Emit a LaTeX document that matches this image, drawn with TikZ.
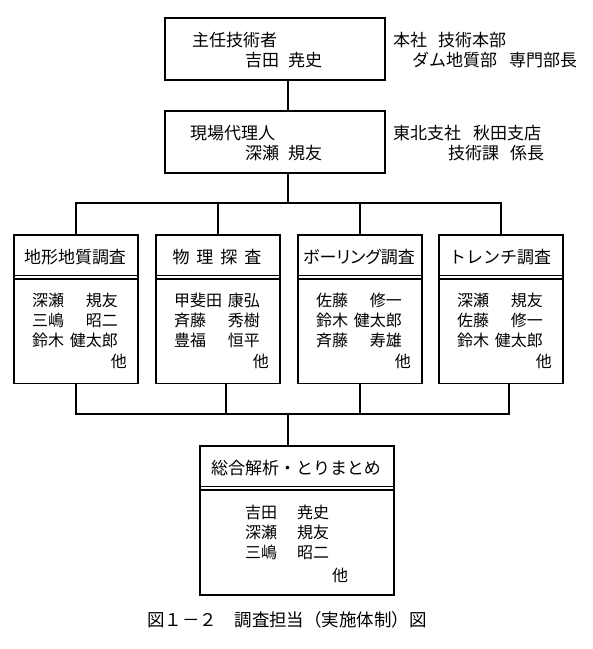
\documentclass[tikz,border=0pt]{standalone}
\usepackage{fontspec}
\newfontfamily\cjk{Noto Sans CJK JP}
\newfontfamily\cjkp[RawFeature=+palt]{Noto Sans CJK JP}
\begin{document}
\begin{tikzpicture}[x=1pt,y=-1pt,
  box/.style={draw, line width=1.5pt, rectangle, inner sep=0pt},
  conn/.style={line width=1.5pt},
  divline/.style={line width=1.2pt},
  txt/.style={inner sep=0pt, font=\cjk\fontsize{17}{17}\selectfont},
  nm/.style={inner sep=0pt, font=\cjk\fontsize{16}{16}\selectfont},
  captxt/.style={inner sep=0pt, font=\cjk\fontsize{17.5}{17.5}\selectfont}]
\useasboundingbox (0,0) rectangle (593,649);
\fill[white] (0,0) rectangle (593,649);

% top boxes
\node[box, minimum width=220pt, minimum height=62pt, anchor=north west] (top) at (164,17) {};
\node[box, minimum width=220pt, minimum height=62pt, anchor=north west] (mgr) at (164,110) {};

\node[txt, anchor=base west] (t1) at (192,46.5) {主任技術者};
\node[txt, anchor=base west] (t2) at (245,66.5) {吉田\hspace{9pt}尭史};
\node[txt, anchor=base west] (t3) at (393,46.5) {本社\hspace{11pt}技術本部};
\node[txt, anchor=base west] (t4) at (412,66.5) {ダム地質部\hspace{12pt}専門部長};

\node[txt, anchor=base west] (m1) at (190,139.5) {現場代理人};
\node[txt, anchor=base west] (m2) at (245,159.5) {深瀬\hspace{9pt}規友};
\node[txt, anchor=base west] (m3) at (393,139.5) {東北支社\hspace{12pt}秋田支店};
\node[txt, anchor=base west] (m4) at (448,159.5) {技術課\hspace{11pt}係長};

% four survey boxes
\foreach \i/\L/\H/\fa/\ga/\fb/\gb/\fc/\gc in {
  1/13/{地形地質調査}/深瀬/規友/三嶋/昭二/鈴木/健太郎,
  2/155/{物\kern7pt理\kern7pt探\kern7pt査}/甲斐田/康弘/斉藤/秀樹/豊福/恒平,
  3/297/{{\cjkp ボーリング}調査}/佐藤/修一/鈴木/健太郎/斉藤/寿雄,
  4/438/{トレンチ調査}/深瀬/規友/佐藤/修一/鈴木/健太郎}{
  \node[box, minimum width=124pt, minimum height=148.5pt, anchor=north west] (b\i) at (\L,234) {};
  \draw[divline] ([yshift=-41.5pt]b\i.north west) -- ([yshift=-41.5pt]b\i.north east);
  \draw[divline] ([yshift=-45pt]b\i.north west) -- ([yshift=-45pt]b\i.north east);
  \node[txt, anchor=base] (b\i-h) at (\L+62,263.5) {\H};
  \node[nm, anchor=base west] (b\i-f1) at (\L+19,306.6) {\fa};
  \node[nm, anchor=base east] (b\i-g1) at (\L+105,306.6) {\ga};
  \node[nm, anchor=base west] (b\i-f2) at (\L+19,326.1) {\fb};
  \node[nm, anchor=base east] (b\i-g2) at (\L+105,326.1) {\gb};
  \node[nm, anchor=base west] (b\i-f3) at (\L+19,346.1) {\fc};
  \node[nm, anchor=base east] (b\i-g3) at (\L+105,346.1) {\gc};
  \node[nm, anchor=base east] (b\i-o) at (\L+114,367.1) {他};
}

% summary box
\node[box, minimum width=194pt, minimum height=149pt, anchor=north west] (sum) at (199,445) {};
\draw[divline] ([yshift=-41.5pt]sum.north west) -- ([yshift=-41.5pt]sum.north east);
\draw[divline] ([yshift=-45pt]sum.north west) -- ([yshift=-45pt]sum.north east);
\node[txt, anchor=base] (s-h) at (296,474.5) {総合解析・とりまとめ};
\node[nm, anchor=base west] (s-f1) at (245,518.1) {吉田};
\node[nm, anchor=base west] (s-g1) at (297,518.1) {尭史};
\node[nm, anchor=base west] (s-f2) at (245,538.1) {深瀬};
\node[nm, anchor=base west] (s-g2) at (297,538.1) {規友};
\node[nm, anchor=base west] (s-f3) at (245,558.1) {三嶋};
\node[nm, anchor=base west] (s-g3) at (297,558.1) {昭二};
\node[nm, anchor=base west] (s-o) at (332,581.1) {他};

% caption
\node[captxt, anchor=base] (caption) at (287,626.5) {図１－２　調査担当（実施体制）図};

% connectors
\coordinate (cx) at (288,0);
\coordinate (busA) at (288,203);
\coordinate (d2) at (226,414);
\coordinate (d4) at (509,414);
\draw[conn] (top.south -| cx) -- (mgr.north -| cx);
\draw[conn] (mgr.south -| cx) -- (busA);
\draw[conn] (b1.north) |- (b4.north |- busA) -- (b4.north);
\draw[conn] (b2.north) -- (b2.north |- busA);
\draw[conn] (b3.north) -- (b3.north |- busA);
\draw[conn] (b1.south) |- (d4) -- (b4.south -| d4);
\draw[conn] (b2.south -| d2) -- (d2);
\draw[conn] (b3.south) -- (b3.south |- d2);
\draw[conn] (cx |- d2) -- (sum.north -| cx);
\end{tikzpicture}
\end{document}
